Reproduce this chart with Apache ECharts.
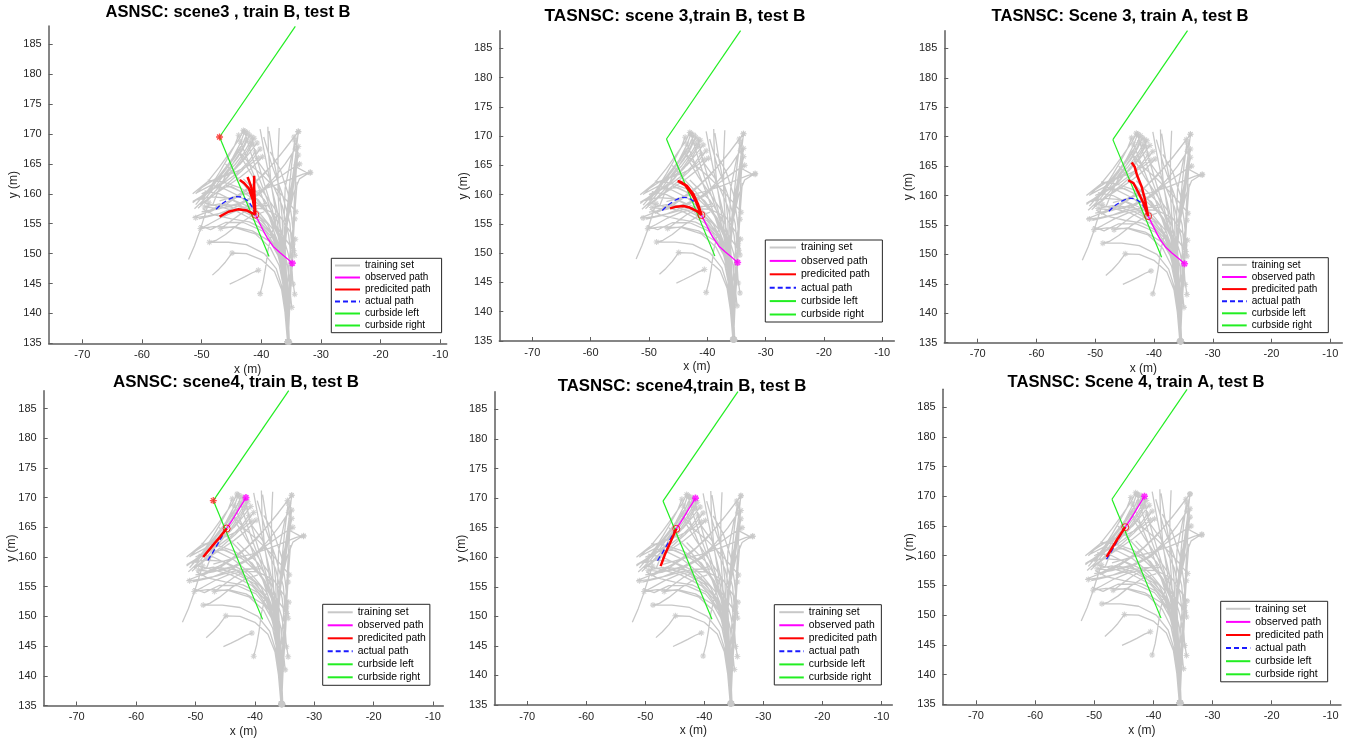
<!DOCTYPE html>
<html><head><meta charset="utf-8">
<script src="https://cdn.jsdelivr.net/npm/echarts@6/dist/echarts.min.js"></script>
<style>html,body{margin:0;padding:0;background:#fff}#c{width:1354px;height:740px}</style>
</head><body><div id="c"></div>
<script>
// ---------------- data (metres) ----------------
const xTicks = [-70, -60, -50, -40, -30, -20, -10];
const yTicks = [135, 140, 145, 150, 155, 160, 165, 170, 175, 180, 185];
const legendNames = ['training set', 'observed path', 'predicited path', 'actual path', 'curbside left', 'curbside right'];

// training trajectories (first point carries the * marker)
const trainingSet = [
  [[-35.5,135.2],[-35.7,140],[-36.0,145],[-36.6,149],[-38.0,152.5],[-40.5,155.2],[-44.0,157.0],[-47.5,158.0],[-50.1,158.6]],
  [[-35.3,135.2],[-35.5,140],[-35.8,145],[-36.3,149.5],[-37.8,153.0],[-40.0,155.5],[-43.5,157.3],[-47.0,158.3],[-49.5,157.8]],
  [[-35.6,135.3],[-35.9,140],[-36.2,144],[-37.0,148],[-38.5,151],[-41.0,153.3],[-44.5,154.4],[-48.0,154.5],[-50.2,154.2]],
  [[-35.4,135.3],[-35.7,140],[-36.0,145],[-36.8,149],[-38.5,152],[-41.5,153.8],[-44.5,154.5],[-46.8,154.2]],
  [[-35.5,135.2],[-35.9,140],[-36.4,144],[-37.5,147.5],[-39.5,150],[-42.5,151.5],[-45.5,151.9],[-48.7,151.9]],
  [[-35.6,135.2],[-36.0,140],[-36.6,144],[-37.8,147],[-40.0,149],[-42.5,150],[-44.9,150.1]],
  [[-35.5,135.3],[-35.8,140],[-36.2,145],[-37.0,150],[-38.5,153.5],[-41.0,156],[-44.0,158.5],[-47.0,160],[-49.5,160.5]],
  [[-35.4,135.2],[-35.6,140],[-35.9,145],[-36.5,150],[-38.0,154],[-40.5,157],[-43.5,159.5],[-46.5,161],[-48.5,161.5]],
  [[-35.5,135.2],[-35.7,141],[-36.1,146],[-37.0,151],[-39.0,155],[-42.0,157.8],[-45.5,159.3],[-48.5,159.5],[-51.2,158.9]],
  [[-35.6,135.3],[-35.8,140],[-36.3,146],[-37.5,151],[-39.5,154],[-42.0,155.3],[-45.0,155.8],[-48.0,156.5],[-49.8,157.5]],
  [[-35.4,135.2],[-35.6,141],[-36.0,147],[-36.8,152],[-38.3,156],[-40.5,159],[-43.5,161],[-46.5,162],[-49.0,162.3]],
  [[-35.5,135.3],[-35.7,142],[-36.2,148],[-37.2,153],[-39.0,156.8],[-41.8,159.5],[-45.0,161.2],[-48.0,161.0],[-50.0,160.0]],
  [[-35.6,135.2],[-35.9,142],[-36.5,148],[-37.8,152.5],[-40.0,155.8],[-43.0,157.8],[-46.5,158.3],[-49.3,156.9]],
  [[-35.5,135.3],[-35.8,142],[-36.4,147],[-37.6,151],[-39.8,153.8],[-43.0,155.2],[-46.0,155.2],[-48.5,154.0],[-50.4,154.7]],
  [[-42.8,170.4],[-43.5,168.5],[-44.8,166],[-46.5,163.5],[-48.3,161],[-50.0,159]],
  [[-42.0,169.8],[-42.8,168],[-44.0,166],[-45.8,163.8],[-47.5,161.5],[-49.3,159.3],[-51.2,157.5]],
  [[-41.5,168.3],[-42.5,166.5],[-44.0,164.5],[-46.0,162.5],[-48.0,160.8],[-50.5,159]],
  [[-43.5,167.5],[-44.5,166],[-46.0,164],[-47.6,162],[-49.5,160],[-51.5,158.5]],
  [[-41.0,167.0],[-42.2,165.3],[-44.0,163.5],[-46.0,162],[-48.5,160.5],[-51.5,158.7]],
  [[-40.7,168.5],[-42.0,166.8],[-43.5,165],[-45.5,163.4],[-47.7,162.5],[-50.0,161]],
  [[-42.5,169.0],[-43.3,167.3],[-44.5,165.5],[-46.0,163],[-47.2,160.5],[-48.2,158]],
  [[-40.5,166.0],[-42.0,164.8],[-44.0,163.8],[-46.5,162.8],[-49.0,162],[-51.5,160]],
  [[-43.0,170.6],[-43.8,169],[-45.2,167],[-47.0,164.5],[-49.0,162],[-51.0,160]],
  [[-42.3,170.2],[-43.2,168.2],[-44.6,166.2],[-46.3,164.0],[-48.0,161.8],[-49.6,159.8],[-51.0,158.2]],
  [[-41.2,169.3],[-42.4,167.2],[-43.9,165.0],[-45.6,162.8],[-47.4,160.8],[-49.2,158.9],[-50.6,157.6]],
  [[-40.2,167.5],[-41.6,165.6],[-43.3,163.8],[-45.2,162.1],[-47.3,160.4],[-49.4,158.6]],
  [[-39.8,166.2],[-41.5,164.4],[-43.5,162.8],[-45.7,161.3],[-48.0,159.8],[-50.3,158.2]],
  [[-43.8,169.8],[-44.5,168.0],[-45.6,166.0],[-47.0,163.6],[-48.5,161.2],[-49.8,159.0]],
  [[-41.8,168.8],[-42.9,166.9],[-44.4,164.9],[-46.2,163.1],[-48.3,161.5],[-50.8,160.2]],
  [[-48.8,158.5],[-49.5,156.3],[-50.3,153.8],[-51.2,151.3],[-52.2,149.0]],
  [[-44.9,150.1],[-46.0,148.6],[-47.1,147.4],[-48.2,146.4]],
  [[-40.5,147.2],[-41.5,146.8],[-42.8,146.1],[-44.0,145.5],[-45.3,144.9]],
  [[-40.2,143.3],[-39.7,145.2],[-39.3,147.5],[-38.9,150.5],[-38.2,153.5],[-37.3,156.5]],
  [[-48.7,151.9],[-47.6,152.2],[-46.0,153.2],[-44.0,154.8],[-41.8,156.2],[-39.5,157.0]],
  [[-50.2,154.2],[-48.8,154.9],[-46.8,156.0],[-44.5,157.0],[-42.0,157.6],[-39.5,157.5],[-37.5,156.5]],
  [[-46.8,154.2],[-45.3,155.3],[-43.5,156.6],[-41.3,157.8],[-39.0,158.5]],
  [[-49.5,157.8],[-47.8,157.6],[-45.5,157.8],[-43.0,158.5],[-40.5,159.8],[-38.5,161.5]],
  [[-51.0,156.0],[-49.0,156.3],[-46.5,156.8],[-44.0,157.5],[-41.5,158.0],[-39.0,158.0]],
  [[-33.8,170.4],[-34.3,166],[-35.0,161],[-35.6,156],[-36.0,151],[-36.0,146],[-35.8,140],[-35.5,135.2]],
  [[-34.4,169.0],[-34.9,165],[-35.4,160],[-35.9,155],[-36.2,150],[-36.1,145],[-35.7,140],[-35.4,135.2]],
  [[-33.8,167.9],[-34.5,163],[-35.3,158],[-36.0,153],[-36.3,148],[-36.0,142],[-35.6,135.3]],
  [[-33.8,166.5],[-34.6,162],[-35.5,157],[-36.3,152],[-36.5,147],[-36.1,141],[-35.6,135.2]],
  [[-34.1,164.8],[-34.8,160],[-35.7,155],[-36.4,150],[-36.4,145],[-35.9,140],[-35.5,135.2]],
  [[-31.8,163.5],[-32.5,163.2],[-33.6,162.5],[-34.6,160],[-35.5,156],[-36.2,151],[-36.3,146],[-35.9,140],[-35.4,135.3]],
  [[-31.8,163.6],[-33.0,163.3],[-35.0,162.5],[-37.5,161.5],[-40.5,160.5],[-43.5,159.8],[-47.0,158.8]],
  [[-34.3,167.5],[-36.0,165],[-38.0,162.5],[-40.5,160],[-43.5,158.5],[-47.0,157.5],[-50.0,157]],
  [[-33.8,170.4],[-36.0,167.5],[-38.5,164.5],[-41.5,161.5],[-45.0,159],[-48.5,157.2],[-51.5,156]],
  [[-34.5,169.5],[-36.8,166.5],[-39.5,163.3],[-42.5,160.5],[-45.8,158.3],[-49.0,156.8]],
  [[-33.6,165.0],[-35.5,163.8],[-38.0,162.0],[-41.0,159.8],[-44.2,157.8],[-47.5,156.5],[-50.5,155.8]],
  [[-35.6,135.2],[-35.4,142],[-35.0,148],[-34.7,153],[-34.5,158],[-34.2,163],[-33.9,168.0]],
  [[-35.5,135.3],[-35.2,142],[-34.8,148],[-34.6,153],[-34.3,158],[-34.0,162]],
  [[-35.4,135.2],[-35.6,142],[-35.9,149],[-36.2,155],[-36.0,161],[-35.0,166],[-33.9,169.5]],
  [[-35.5,135.2],[-35.7,142],[-36.2,148],[-36.8,154],[-37.2,160],[-37.2,166],[-37.0,171.0]],
  [[-35.6,135.3],[-35.8,142],[-36.1,148],[-36.0,154],[-35.3,160],[-34.2,164.5],[-32.5,163.6],[-31.8,163.4]],
  [[-35.5,135.3],[-35.9,141],[-36.3,147],[-36.8,152],[-37.6,157],[-38.4,162],[-38.8,167],[-38.9,171.2]],
  [[-35.4,135.2],[-35.8,140],[-36.1,146],[-36.5,152],[-37.3,157],[-38.5,162],[-39.5,167],[-40.2,170.8]],
  [[-35.6,135.3],[-36.0,144],[-36.3,150],[-36.5,156],[-37.0,161],[-38.0,166],[-38.7,170.5]],
  [[-35.5,135.3],[-35.3,140],[-35.0,145],[-34.8,150],[-35.2,155],[-36.5,160],[-38.3,165],[-39.6,169.5]],
  [[-42.8,170.4],[-41.8,167],[-40.5,163],[-39.0,159],[-37.5,154.5],[-36.6,150],[-36.2,145],[-35.8,140],[-35.5,135.2]],
  [[-41.6,169.5],[-40.8,166],[-39.6,162],[-38.2,157.5],[-37.0,152.5],[-36.4,147],[-36.0,141],[-35.5,135.3]],
  [[-43.5,168.7],[-42.2,165.5],[-40.8,162],[-39.3,158],[-37.8,153.5],[-36.8,149],[-36.2,143],[-35.6,135.3]],
  [[-34.6,150.5],[-36.0,152.5],[-37.8,155.0],[-39.8,157.8],[-42.0,160.5],[-44.3,163.0],[-46.0,165.0]],
  [[-34.3,152.4],[-35.8,154.6],[-37.6,157.3],[-39.6,160.2],[-41.5,163.0],[-43.0,165.5],[-44.0,167.5]],
  [[-34.2,157.0],[-35.5,158.6],[-37.3,160.6],[-39.5,162.8],[-41.8,164.8],[-43.5,166.8]],
  [[-34.4,155.8],[-34.9,153],[-35.3,149],[-35.6,145],[-35.6,140],[-35.5,135.3]],
  [[-34.7,151.6],[-35.1,148],[-35.4,144],[-35.5,135.3]],
  [[-34.4,149.7],[-34.5,152],[-34.9,156],[-35.5,160],[-36.8,164],[-38.5,167]],
  [[-34.7,144.9],[-34.9,148],[-35.4,153],[-36.5,158],[-38.5,162.5],[-41.0,166]],
  [[-34.4,143.2],[-34.8,146],[-35.5,150],[-37.0,155],[-39.5,159],[-43.0,162.5]],
  [[-34.9,141.0],[-35.2,144],[-35.6,148],[-36.8,153],[-39.0,157],[-42.5,160],[-46.0,161.5]]
];

const curbLeft  = [[-34.3,188.0],[-47.0,169.5]];
const curbRight = [[-47.0,169.5],[-38.7,149.5]];

const observedScene3 = [[-34.8,148.4],[-35.7,149.2],[-36.9,150.2],[-38.0,151.2],[-39.0,152.6],[-40.0,154.5],[-41.0,156.5]];
const actualScene3   = [[-41.0,156.5],[-41.4,157.6],[-42.1,158.7],[-43.2,159.45],[-44.4,159.55],[-45.6,159.0],[-46.8,158.2],[-47.9,157.1]];
const observedScene4 = [[-41.5,170.0],[-42.3,168.7],[-43.2,167.2],[-44.0,165.9],[-44.75,164.8]];
const actualScene4   = [[-44.75,164.8],[-45.2,164.1],[-46.2,162.3],[-47.0,160.9],[-48.0,159.3]];

const predictedASNSC3 = [
  [[-41.0,156.5],[-41.3,156.7],[-42.4,157.2],[-43.9,157.4],[-45.5,157.0],[-47.0,156.2]],
  [[-41.0,156.5],[-41.4,158.9],[-42.1,160.9],[-42.9,161.8],[-43.6,162.3]],
  [[-41.0,156.5],[-41.2,158.9],[-41.7,161.2],[-42.3,162.8]],
  [[-41.0,156.5],[-41.1,158.9],[-41.2,161.2],[-41.2,163.0]]
];
const predictedTASNSC3B = [
  [[-41.0,156.5],[-41.8,157.2],[-43.0,157.8],[-44.1,158.05],[-45.3,157.95],[-46.4,157.65]],
  [[-41.0,156.5],[-41.8,158.5],[-42.7,160.2],[-43.8,161.6],[-45.0,162.3]],
  [[-41.0,156.5],[-41.6,158.4],[-42.4,160.1],[-43.5,161.5],[-44.6,162.2],[-45.1,162.3]]
];
const predictedTASNSC3A = [
  [[-41.0,156.5],[-41.5,159.2],[-42.1,161.5],[-42.9,163.5],[-43.3,164.9],[-43.8,165.6]],
  [[-41.0,156.5],[-41.8,158.7],[-42.7,160.6],[-43.5,162.1],[-44.4,162.6]]
];
const predictedASNSC4   = [[[-44.75,164.8],[-45.85,163.4],[-47.3,161.7],[-48.7,160.0]]];
const predictedTASNSC4B = [[[-44.75,164.8],[-45.8,162.4],[-46.7,160.4],[-47.4,158.5]]];
const predictedTASNSC4A = [[[-44.75,164.8],[-46.2,162.6],[-47.9,159.8]]];

const titles = [
  'ASNSC: scene3 , train B, test B',
  'TASNSC: scene 3,train B, test B',
  'TASNSC: Scene 3, train A, test B',
  'ASNSC: scene4, train B, test B',
  'TASNSC: scene4,train B, test B',
  'TASNSC: Scene 4, train A, test B'
];

// ---------------- layout ----------------
const panels = [
  {t:0, tx:228, ty:13, tfs:16.5, g:[48.7,26,398,317.3], xr:[-75.63,-8.93], yr:[135,188.06], obs:observedScene3, act:actualScene3, pred:predictedASNSC3, corner:true,
   lg:{left:331.3, top:258.3, pad:[2.2,11,2.2,2.7], iw:25, ih:10, gap:2, fs:10}, yGap:29},
  {t:1, tx:675, ty:17, tfs:17.3, g:[499.3,30.7,395,310.3], xr:[-75.66,-7.94], yr:[135,188], obs:observedScene3, act:actualScene3, pred:predictedTASNSC3B, corner:false,
   lg:{left:765.3, top:240, pad:[2,12.5,2,3.4], iw:26.3, ih:10.5, gap:2.4, fs:10.5}, yGap:30},
  {t:2, tx:1120, ty:17, tfs:16.6, g:[944.3,30.7,398,312], xr:[-75.68,-7.96], yr:[135,188], obs:observedScene3, act:actualScene3, pred:predictedTASNSC3A, corner:false,
   lg:{left:1217.7, top:257.7, pad:[2.2,11,2.2,3.3], iw:24.7, ih:10, gap:2.1, fs:10}, yGap:30},
  {t:3, tx:236, ty:383, tfs:16.9, g:[43.7,390.7,399.6,314.8], xr:[-75.56,-8.27], yr:[135,188], obs:observedScene4, act:actualScene4, pred:predictedASNSC4, corner:true,
   lg:{left:322.7, top:604.3, pad:[3,4,3,4], iw:25, ih:10.4, gap:3, fs:10.4}, yGap:26},
  {t:4, tx:682, ty:387, tfs:16.8, g:[494.3,391.7,398,313.3], xr:[-75.59,-8.14], yr:[135,188], obs:observedScene4, act:actualScene4, pred:predictedTASNSC4B, corner:false,
   lg:{left:774.3, top:604.7, pad:[2.5,4.4,2.5,4], iw:24.5, ih:10.4, gap:3.05, fs:10.4}, yGap:27},
  {t:5, tx:1136, ty:383, tfs:16.6, g:[942.7,389.3,398.3,315], xr:[-75.63,-8.26], yr:[135,188], obs:observedScene4, act:actualScene4, pred:predictedTASNSC4A, corner:false,
   lg:{left:1220.7, top:601.3, pad:[2.5,4.2,2.5,4.3], iw:24.3, ih:10.4, gap:3.1, fs:10.4}, yGap:27}
];

const FONT = "'Liberation Sans', Arial, sans-serif";
const AXIS_COLOR = '#5e5e5e';
const TEXT_COLOR = '#262626';
const GREY = '#c8c8c8';
const ASTERISK = 'path://M5 0L5 10M0 5L10 5M1.5 1.5L8.5 8.5M1.5 8.5L8.5 1.5';

function joinPaths(paths) {
  const out = [];
  paths.forEach((p, i) => { if (i) out.push(['-', '-']); p.forEach(pt => out.push(pt)); });
  return out;
}

const option = {animation:false, backgroundColor:'#fff', title:[], grid:[], xAxis:[], yAxis:[], legend:[], series:[]};

panels.forEach((p, i) => {
  option.title.push({text:titles[p.t], left:p.tx, top:p.ty - 9, textAlign:'center', padding:0,
    textStyle:{fontFamily:FONT, fontWeight:'bold', fontSize:p.tfs, color:'#000'}});
  option.grid.push({left:p.g[0], top:p.g[1], width:p.g[2], height:p.g[3], outerBoundsMode:'none', containLabel:false});
  const axisCommon = {
    type:'value', gridIndex:i, nameLocation:'middle', nameMoveOverlap:false,
    nameTextStyle:{fontFamily:FONT, fontSize:12, color:TEXT_COLOR},
    splitLine:{show:false},
    axisLine:{show:true, onZero:false, lineStyle:{color:AXIS_COLOR, width:1.5}},
  };
  option.xAxis.push(Object.assign({}, axisCommon, {
    min:p.xr[0], max:p.xr[1], name:'x (m)', nameGap:20,
    axisTick:{show:true, inside:true, length:4, customValues:xTicks, lineStyle:{color:AXIS_COLOR, width:1}},
    axisLabel:{customValues:xTicks, margin:6, fontFamily:FONT, fontSize:11, color:TEXT_COLOR}
  }));
  option.yAxis.push(Object.assign({}, axisCommon, {
    min:p.yr[0], max:p.yr[1], name:'y (m)', nameGap:p.yGap,
    axisTick:{show:true, inside:true, length:4, customValues:yTicks, lineStyle:{color:AXIS_COLOR, width:1}},
    axisLabel:{customValues:yTicks, margin:7, fontFamily:FONT, fontSize:11, color:TEXT_COLOR}
  }));
  option.legend.push({
    show:true, orient:'vertical', left:p.lg.left, top:p.lg.top, padding:p.lg.pad,
    itemWidth:p.lg.iw, itemHeight:p.lg.ih, itemGap:p.lg.gap, selectedMode:false,
    backgroundColor:'#fff', borderColor:'#262626', borderWidth:1, borderRadius:0,
    itemStyle:{opacity:0, borderWidth:0},
    textStyle:{fontFamily:FONT, fontSize:p.lg.fs, color:'#000'},
    data:legendNames
  });
  const ax = {xAxisIndex:i, yAxisIndex:i};
  const lineBase = Object.assign({type:'line', symbol:'none', showSymbol:false, connectNulls:false, silent:true, clip:true}, ax);
  option.series.push(Object.assign({}, lineBase, {name:'training set', data:joinPaths(trainingSet), z:1,
    lineStyle:{color:GREY, width:1.3}, itemStyle:{color:GREY}}));
  option.series.push(Object.assign({type:'scatter', name:'training start', silent:true, z:2,
    data:trainingSet.map(t => t[0]), symbol:ASTERISK, symbolSize:6,
    itemStyle:{color:'rgba(0,0,0,0)', borderColor:GREY, borderWidth:1.1}}, ax));
  option.series.push(Object.assign({}, lineBase, {name:'curbside left', data:curbLeft, z:3,
    lineStyle:{color:'#22ee22', width:1.2}, itemStyle:{color:'#22ee22'}}));
  option.series.push(Object.assign({}, lineBase, {name:'curbside right', data:curbRight, z:3,
    lineStyle:{color:'#22ee22', width:1.2}, itemStyle:{color:'#22ee22'}}));
  option.series.push(Object.assign({}, lineBase, {name:'observed path', data:p.obs, z:4,
    lineStyle:{color:'#ff00ff', width:1.3}, itemStyle:{color:'#ff00ff'}}));
  option.series.push(Object.assign({}, lineBase, {name:'actual path', data:p.act, z:5,
    lineStyle:{color:'#1a1aff', width:1.3, type:[5,3]}, itemStyle:{color:'#1a1aff'}}));
  option.series.push(Object.assign({}, lineBase, {name:'predicited path', data:joinPaths(p.pred), z:6,
    lineStyle:{color:'#ff0000', width:2.5}, itemStyle:{color:'#ff0000'}}));
  option.series.push(Object.assign({type:'scatter', name:'prediction start', silent:true, z:7,
    data:[p.obs[p.obs.length - 1]], symbol:'circle', symbolSize:7,
    itemStyle:{color:'rgba(0,0,0,0)', borderColor:'#ff0000', borderWidth:1}}, ax));
  option.series.push(Object.assign({type:'scatter', name:'observed start', silent:true, z:7,
    data:[p.obs[0]], symbol:ASTERISK, symbolSize:7,
    itemStyle:{color:'rgba(0,0,0,0)', borderColor:'#ff00ff', borderWidth:1.6}}, ax));
  if (p.corner) {
    option.series.push(Object.assign({type:'scatter', name:'curb corner', silent:true, z:7,
      data:[curbLeft[curbLeft.length - 1]], symbol:ASTERISK, symbolSize:7,
      itemStyle:{color:'rgba(0,0,0,0)', borderColor:'#ff2020', borderWidth:1.3}}, ax));
  }
});

const chart = echarts.init(document.getElementById('c'), null, {renderer:'canvas'});
chart.setOption(option);
</script>
</body></html>
